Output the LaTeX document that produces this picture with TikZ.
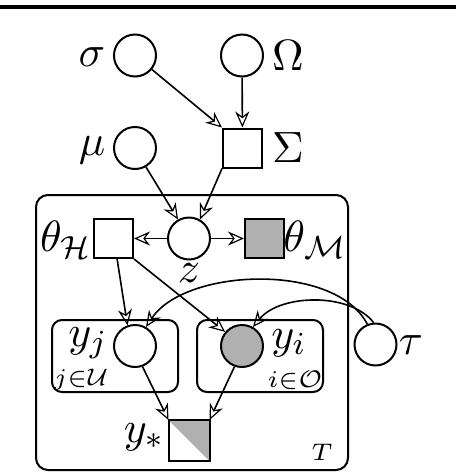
\documentclass[tikz,border=0pt]{standalone}
\usetikzlibrary{positioning,arrows.meta}
\definecolor{ObsGray}{HTML}{B0B0B0}

\begin{document}
\begin{tikzpicture}[x=0.25pt, y=-0.25pt, line width=0.5pt,
  latent/.style={draw,circle,minimum size=10.5pt,inner sep=0pt},
  obs/.style={latent,fill=ObsGray},
  det/.style={draw,rectangle,minimum size=9.75pt,inner sep=0pt},
  detobs/.style={det,fill=ObsGray},
  plate/.style={draw,rounded corners=3pt},
  lab/.style={inner sep=0pt,font=\fontsize{11}{13}\selectfont},
  idx/.style={inner sep=0pt,font=\fontsize{6}{7}\selectfont},
  edge/.style={-{Stealth[open,length=4pt,width=3.5pt,inset=1.3pt,line width=0.3pt]},line width=0.4pt}]
  \useasboundingbox (0,0) rectangle (456,472);
  \draw[line width=0.8pt] (0,7) -- (456,7);
  % plates
  \draw[plate] (36,195) rectangle (348,470);
  \draw[plate,rounded corners=2.5pt] (52,320) rectangle (178,392);
  \draw[plate,rounded corners=2.5pt] (197,320) rectangle (323,392);
  % nodes
  \node[latent] (sigma) at (135,55.5) {};
  \node[latent] (Omega) at (242,55.5) {};
  \node[det] (Sigma) at (242.5,148) {};
  \node[latent] (mu) at (135,148) {};
  \node[latent] (z) at (189,238.5) {};
  \node[det] (thetaH) at (113.5,238.5) {};
  \node[detobs] (thetaM) at (264.5,238.5) {};
  \node[latent] (yj) at (135,346) {};
  \node[obs] (yi) at (242,346) {};
  \node[latent] (tau) at (375.5,344.5) {};
  \node[det,draw=none] (ystar) at (189,440.5) {};
  \fill[ObsGray] (ystar.north west) -- (ystar.north east) -- (ystar.south east) -- cycle;
  \draw (ystar.north west) rectangle (ystar.south east);
  % labels
  \node[lab] (sigmaLab) at (92,57) {$\sigma$};
  \node[lab] (OmegaLab) at (288,56) {$\Omega$};
  \node[lab] (SigmaLab) at (288,148) {$\Sigma$};
  \node[lab] (muLab) at (92,150) {$\mu$};
  \node[lab] (thetaHLab) at (66,240) {$\theta_{\mathcal{H}}$};
  \node[lab] (thetaMLab) at (315,240) {$\theta_{\mathcal{M}}$};
  \node[lab] (zLab) at (189,273) {$z$};
  \node[lab] (yjLab) at (88,343) {$y_j$};
  \node[lab] (yiLab) at (289,343) {$y_i$};
  \node[lab] (tauLab) at (411,345) {$\tau$};
  \node[lab] (ystarLab) at (144,437) {$y_*$};
  \node[idx] (jLab) at (81,380) {$j{\in}\mathcal{U}$};
  \node[idx] (iLab) at (295,380) {$i{\in}\mathcal{O}$};
  \node[idx] (TLab) at (322,452) {$T$};
  % edges
  \draw[edge] (sigma) -- (Sigma.north west);
  \draw[edge] (Omega) -- (Sigma);
  \draw[edge] (mu.-60) -- (z.120);
  \draw[edge] (Sigma.south west) -- (z.60);
  \draw[edge] (z) -- (thetaH);
  \draw[edge] (z) -- (thetaM);
  \draw[edge] (thetaH.-80) -- (yj.110);
  \draw[edge] (thetaH.south east) -- (yi.140);
  \draw[edge] (tau.112) .. controls (335,262) and (185,268) .. (yj.60);
  \draw[edge] (tau.95) .. controls (350,292) and (280,294) .. (yi.60);
  \draw[edge] (yj.-70) -- (ystar.north west);
  \draw[edge] (yi.-110) -- (ystar.north east);
\end{tikzpicture}
\end{document}
